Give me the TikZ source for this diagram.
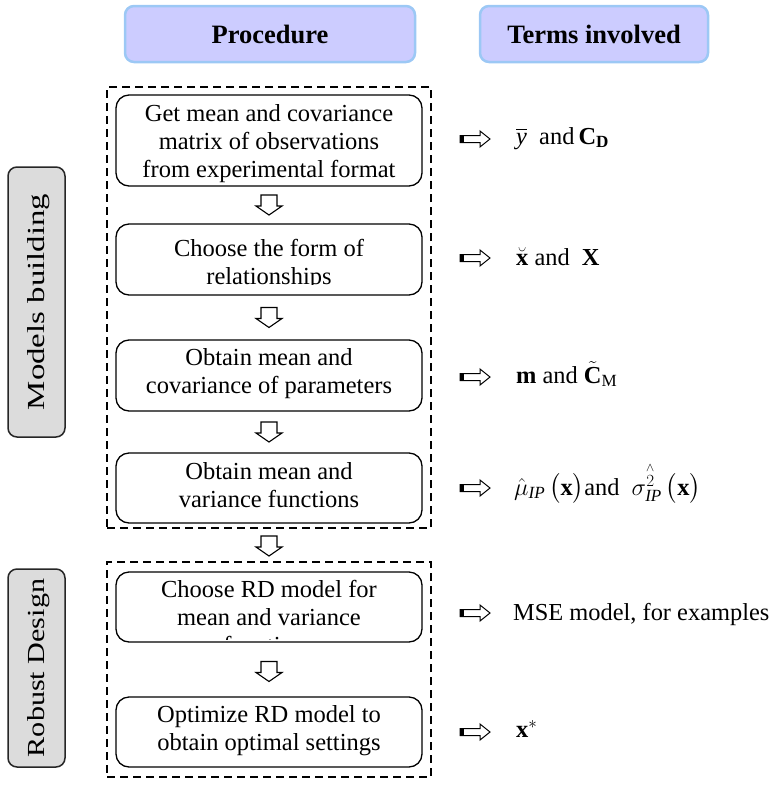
\documentclass[tikz,border=0pt]{standalone}
\RequirePackage{fix-cm}
\usepackage{amsmath}
\usepackage{fontspec}
\setmainfont{Liberation Serif}
\usetikzlibrary{calc}
\definecolor{hdrfill}{HTML}{CCCCFF}
\definecolor{hdrline}{HTML}{9CC8F5}
\definecolor{sidefill}{HTML}{DCDCDC}
\tikzset{
  hdr/.style={draw=hdrline, fill=hdrfill, line width=2.5pt, rounded corners=9pt, minimum height=56pt, font=\fontsize{26.5}{30}\selectfont\bfseries},
  stepbox/.style={draw, line width=1.3pt, rounded corners=13pt, minimum width=306pt},
  grp/.style={draw, line width=1.8pt, dash pattern=on 8pt off 5pt, minimum width=324pt},
  side/.style={draw=black!85, fill=sidefill, line width=1.5pt, rounded corners=9pt},
  sidetxt/.style={font=\fontsize{24.5}{28}\selectfont, inner sep=0pt},
  txt/.style={font=\fontsize{24.5}{28}\selectfont, align=center, inner sep=0pt, anchor=north},
  term/.style={font=\fontsize{24.4}{28}\selectfont, anchor=base west, inner sep=0pt},
  blk/.style={draw, line width=1.1pt, fill=white, line join=miter},
  pics/downarr/.style={code={\draw[blk] (-8,10) -- (8,10) -- (8,-1) -- (13,-1) -- (0,-10) -- (-13,-1) -- (-8,-1) -- cycle;}},
  pics/rightarr/.style={code={\draw[blk, line width=1pt] (-15,3.5) -- (5,3.5) -- (5,8) -- (15,0) -- (5,-8) -- (5,-3.5) -- (-15,-3.5) -- cycle; \fill (-15,-3.5) rectangle (-11,3.5);}}
}
\begin{document}
\begin{tikzpicture}[x=1pt,y=1pt]
\useasboundingbox (0,0) rectangle (777,-788);
% headers
\node[hdr, minimum width=290pt] (hp) at (270,-34) {Procedure};
\node[hdr, minimum width=228pt] (ht) at (594,-34) {Terms involved};
% groups
\node[grp, minimum height=441pt] (g1) at (269,-307.5) {};
\node[grp, minimum height=215pt] (g2) at (269,-669.5) {};
% side labels
\node[side, minimum width=57pt, minimum height=270pt] (sm) at (36.5,-302) {};
\node[side, minimum width=57pt, minimum height=198pt] (sr) at (36.5,-668) {};
\node[sidetxt, rotate=90, xscale=1.34] (smt) at ($(sm.center)+(2,0)$) {Models building};
\node[sidetxt, rotate=90, xscale=1.23] (srt) at ($(sr.center)+(2,0)$) {Robust Design};
% step boxes
\node[stepbox, minimum height=91pt] (b1) at (269,-140.5) {};
\node[stepbox, minimum height=71pt] (b2) at (269,-259.5) {};
\node[stepbox, minimum height=71pt] (b3) at (269,-375.5) {};
\node[stepbox, minimum height=70pt] (b4) at (269,-488) {};
\node[stepbox, minimum height=70pt] (b5) at (269,-607) {};
\node[stepbox, minimum height=70pt] (b6) at (269,-732) {};
% step texts
\node[txt] (t1) at ($(b1.north)+(0,-10)$) {\rule{0pt}{17pt}Get mean and covariance\\matrix of observations\\from experimental format};
\begin{scope}
\clip ($(b2.north west)$) rectangle ($(b2.south east)+(0,11)$);
\node[txt] (t2) at ($(b2.north)+(0,-16)$) {\rule{0pt}{17pt}Choose the form of\\relationships};
\end{scope}
\node[txt] (t3) at ($(b3.north)+(0,-9)$) {\rule{0pt}{17pt}Obtain mean and\\covariance of parameters};
\node[txt] (t4) at ($(b4.north)+(0,-10)$) {\rule{0pt}{17pt}Obtain mean and\\variance functions};
\begin{scope}
\clip ($(b5.north west)$) rectangle ($(b5.south east)+(0,3)$);
\node[txt] (t5) at ($(b5.north)+(0,-9)$) {\rule{0pt}{17pt}Choose RD model for\\mean and variance\\functions};
\end{scope}
\node[txt] (t6) at ($(b6.north)+(0,-9)$) {\rule{0pt}{17pt}Optimize RD model to\\obtain optimal settings};
% down arrows
\coordinate (a1) at ($(b1.south)!0.5!(b2.north)$);
\coordinate (a2) at ($(b2.south)!0.5!(b3.north)$);
\coordinate (a3) at ($(b3.south)!0.5!(b4.north)$);
\coordinate (a4) at ($(g1.south)!0.5!(g2.north)+(0,-1)$);
\coordinate (a5) at ($(b5.south)!0.5!(b6.north)+(0,-2)$);
\pic at (a1) {downarr};
\pic at (a2) {downarr};
\pic at (a3) {downarr};
\pic at (a4) {downarr};
\pic at (a5) {downarr};
% right arrows
\coordinate (r1) at (475,-139);
\coordinate (r2) at (475,-258);
\coordinate (r3) at (475,-377);
\coordinate (r4) at (475,-488);
\coordinate (r5) at (475,-613);
\coordinate (r6) at (475,-732);
\pic at (r1) {rightarr};
\pic at (r2) {rightarr};
\pic at (r3) {rightarr};
\pic at (r4) {rightarr};
\pic at (r5) {rightarr};
\pic at (r6) {rightarr};
% terms
\node[term] (m1) at (516,-144) {$\overline{\text{\itshape y}}$\ \ and\,\textbf{C}\textsubscript{\textbf{D}}};
\node[term] (m2) at (516,-265) {$\breve{\text{\bfseries x}}$\ and\ \ \textbf{X}};
\node[term] (m3) at (516,-383) {\textbf{m} and $\tilde{\text{\bfseries C}}$\textsubscript{M}};
\node[term] (m4) at (514,-495) {$\hat{\mu}_{\text{\itshape IP}}\,\bigl(\text{\bfseries x}\bigr)$and\ \ $\sigma^{\overset{\wedge}{2}}_{\text{\itshape IP}}\,\bigl(\text{\bfseries x}\bigr)$};
\node[term] (m5) at (513,-620) {MSE model, for examples};
\node[term] (m6) at (516,-737) {$\text{\bfseries x}^{*}$};
\end{tikzpicture}
\end{document}
